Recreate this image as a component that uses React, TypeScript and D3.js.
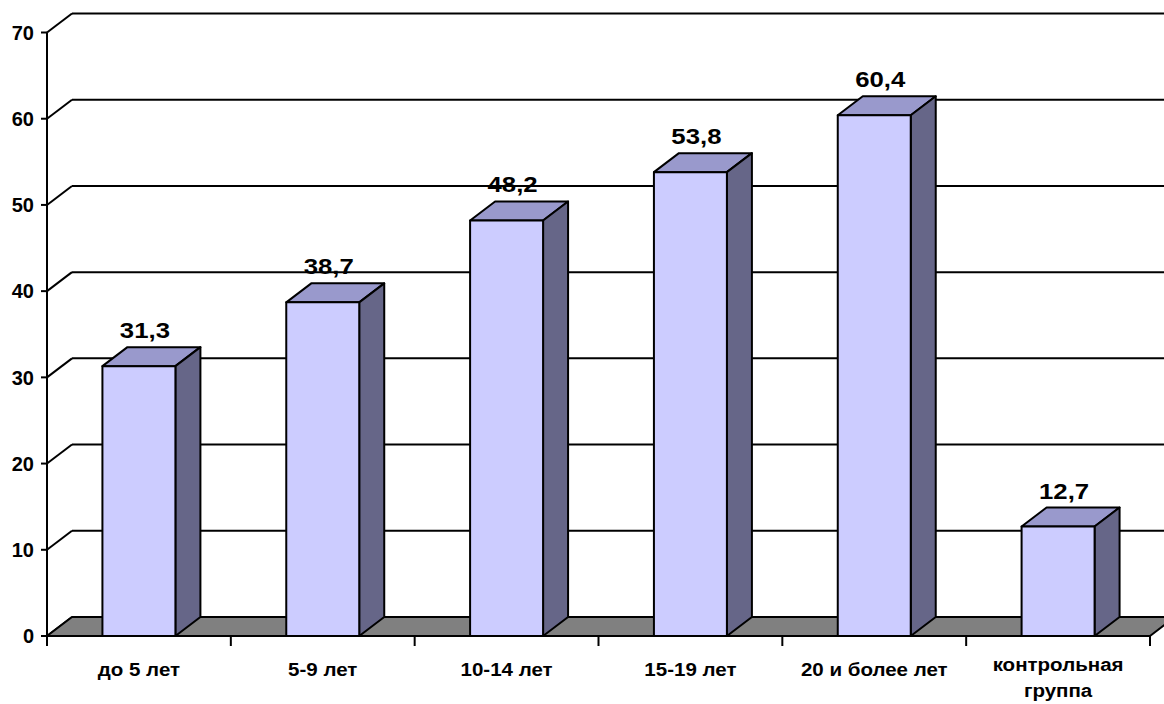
import React from "react";
import * as d3 from "d3";

const categories = ["до 5 лет", "5-9 лет", "10-14 лет", "15-19 лет", "20 и более лет", "контрольная\nгруппа"];
const values = [31.3, 38.7, 48.2, 53.8, 60.4, 12.7];
const yTicks = [0, 10, 20, 30, 40, 50, 60, 70];

const W = 1164;
const H = 704;
const left = 47;
const right = 1150;
const depthX = 25;
const depthY = 19;
const font = "'Liberation Sans', Arial, sans-serif";

const App = () => {
  const x = d3.scaleBand<string>().domain(categories).range([left, right]).paddingInner(0.603).paddingOuter(0.3015);
  const y = d3.scaleLinear().domain([0, 70]).range([636, 32.5]);
  const step = x.step();
  const bw = x.bandwidth();
  const y0 = y(0);

  const fmt = (v: number) => v.toFixed(1).replace(".", ",");

  return (
    <div style={{ position: "absolute", left: 0, top: 0 }}>
      <svg width={W} height={H} style={{ display: "block", background: "#fff" }}>
        {/* back wall gridlines and left wall diagonals */}
        {yTicks.map((t) => (
          <g key={t}>
            <line x1={left + depthX} x2={W + 20} y1={y(t) - depthY} y2={y(t) - depthY} stroke="#000" strokeWidth={2} />
            <line x1={left} x2={left + depthX} y1={y(t)} y2={y(t) - depthY} stroke="#000" strokeWidth={2} />
            <line x1={left - 6} x2={left} y1={y(t)} y2={y(t)} stroke="#000" strokeWidth={2} />
            <text x={34} y={y(t)} dy="0.36em" textAnchor="end" fontFamily={font} fontWeight="bold" fontSize={20}>
              {t}
            </text>
          </g>
        ))}
        {/* floor */}
        <path
          d={`M${left},${y0} L${right},${y0} L${right + depthX},${y0 - depthY} L${W + 40},${y0 - depthY} L${left + depthX},${y0 - depthY} Z`}
          fill="#808080"
          stroke="#000"
          strokeWidth={2}
          strokeLinejoin="round"
        />
        {/* left axis */}
        <line x1={left} x2={left} y1={y(70)} y2={y0 + 10} stroke="#000" strokeWidth={2} />
        {/* bottom ticks */}
        {d3.range(categories.length + 1).map((i) => (
          <line key={i} x1={left + i * step} x2={left + i * step} y1={y0} y2={y0 + 10} stroke="#000" strokeWidth={2} />
        ))}
        {/* bars */}
        {categories.map((c, i) => {
          const bx = x(c)!;
          const by = y(values[i]);
          return (
            <g key={c} stroke="#000" strokeWidth={2} strokeLinejoin="round">
              <path
                d={`M${bx},${by} L${bx + depthX},${by - depthY} L${bx + bw + depthX},${by - depthY} L${bx + bw},${by} Z`}
                fill="#9999CC"
              />
              <path
                d={`M${bx + bw},${by} L${bx + bw + depthX},${by - depthY} L${bx + bw + depthX},${y0 - depthY} L${bx + bw},${y0} Z`}
                fill="#666688"
              />
              <rect x={bx} y={by} width={bw} height={y0 - by} fill="#CCCCFF" />
              <g transform={`translate(${bx + bw / 2 + 6},${by - depthY - 9}) scale(1.12,1)`}>
                <text textAnchor="middle" fontFamily={font} fontWeight="bold" fontSize={23} stroke="none">
                  {fmt(values[i])}
                </text>
              </g>
            </g>
          );
        })}
        {/* category labels */}
        {categories.map((c) => {
          const lines = c.split("\n");
          const top = lines.length > 1 ? 671 : 676;
          return (
            <g key={c} transform={`translate(${x(c)! + bw / 2},${top}) scale(1.08,1)`}>
              <text textAnchor="middle" fontFamily={font} fontWeight="bold" fontSize={19}>
                {lines.map((l, k) => (
                  <tspan key={k} x={0} y={k * 26}>
                    {l}
                  </tspan>
                ))}
              </text>
            </g>
          );
        })}
      </svg>
    </div>
  );
};

export default App;
